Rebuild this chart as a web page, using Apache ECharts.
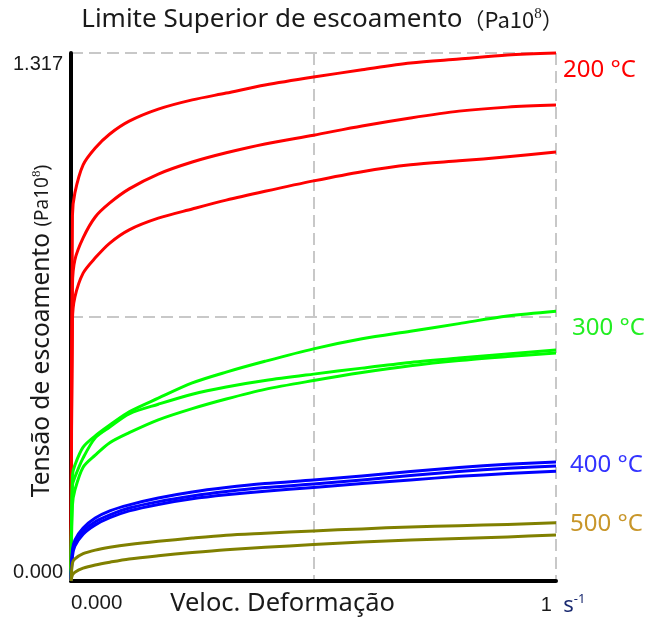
<!DOCTYPE html>
<html>
<head>
<meta charset="utf-8">
<script src="https://cdn.jsdelivr.net/npm/echarts@6/dist/echarts.min.js"></script>
<style>html,body{margin:0;padding:0;background:#fff;}#c{width:645px;height:620px;}</style>
</head>
<body>
<div id="c"></div>
<script>
// Strain rate (s^-1), shared by all curves
const xVals = [0, 0.003, 0.008, 0.025, 0.05, 0.08, 0.12, 0.18, 0.25, 0.32, 0.4, 0.5, 0.6, 0.7, 0.8, 0.9, 1.0];
// Yield stress (Pa·10^8)
const red1   = [0, 0.913, 0.968, 1.038, 1.080, 1.115, 1.147, 1.177, 1.200, 1.217, 1.237, 1.257, 1.275, 1.292, 1.302, 1.312, 1.317];
const red2   = [0, 0.738, 0.801, 0.856, 0.908, 0.943, 0.978, 1.015, 1.045, 1.068, 1.090, 1.112, 1.135, 1.155, 1.172, 1.182, 1.187];
const red3   = [0, 0.651, 0.708, 0.768, 0.806, 0.843, 0.876, 0.905, 0.928, 0.950, 0.972, 0.998, 1.021, 1.038, 1.048, 1.058, 1.070];
const green1 = [0, 0.264, 0.289, 0.334, 0.362, 0.389, 0.422, 0.456, 0.494, 0.521, 0.548, 0.579, 0.604, 0.623, 0.642, 0.661, 0.673];
const green2 = [0, 0.239, 0.259, 0.307, 0.357, 0.384, 0.417, 0.441, 0.466, 0.484, 0.500, 0.516, 0.531, 0.545, 0.556, 0.566, 0.576];
const green3 = [0, 0.190, 0.227, 0.284, 0.314, 0.345, 0.370, 0.402, 0.430, 0.454, 0.478, 0.500, 0.520, 0.537, 0.550, 0.560, 0.569];
const blue1  = [0, 0.077, 0.102, 0.132, 0.157, 0.175, 0.190, 0.207, 0.222, 0.233, 0.243, 0.252, 0.262, 0.273, 0.283, 0.291, 0.297];
const blue2  = [0, 0.070, 0.095, 0.125, 0.148, 0.165, 0.182, 0.198, 0.212, 0.223, 0.233, 0.242, 0.252, 0.263, 0.273, 0.281, 0.287];
const blue3  = [0, 0.062, 0.087, 0.117, 0.140, 0.158, 0.175, 0.191, 0.205, 0.215, 0.224, 0.233, 0.243, 0.252, 0.261, 0.268, 0.274];
const olive1 = [0, 0.045, 0.055, 0.068, 0.077, 0.084, 0.091, 0.099, 0.107, 0.114, 0.119, 0.125, 0.130, 0.135, 0.138, 0.141, 0.145];
const olive2 = [0, 0.015, 0.022, 0.032, 0.040, 0.047, 0.055, 0.063, 0.071, 0.078, 0.084, 0.091, 0.097, 0.102, 0.106, 0.110, 0.115];
const tempLabels = ['200 °C', '300 °C', '400 °C', '500 °C'];
const yMax = 1.317;
const xTickLabels = ['0.000', '1'];
const yTickLabels = ['0.000', '1.317'];

const FONT = 'Noto Sans';
const NUMFONT = 'Liberation Sans';

function pairs(ys) { return xVals.map((x, i) => [x, ys[i]]); }

function mk(name, ys, color, endLbl) {
  const s = {
    name: name, type: 'line', data: pairs(ys), showSymbol: false, symbol: 'none',
    smooth: 0.3, clip: false,
    lineStyle: { color: color, width: 3, join: 'round' }, silent: true, animation: false
  };
  if (endLbl) {
    s.endLabel = {
      show: true, formatter: endLbl.text, color: endLbl.color, fontFamily: FONT,
      fontSize: 24, distance: 0, offset: endLbl.offset
    };
  }
  return s;
}

const chart = echarts.init(document.getElementById('c'), null, { renderer: 'canvas' });
chart.setOption({
  backgroundColor: '#ffffff',
  animation: false,
  title: {
    text: '{a|Limite Superior de escoamento}{b|（Pa10}{sup|8}{b|）}',
    left: 'center', top: 2,
    textStyle: {
      fontWeight: 'normal',
      rich: {
        a: { fontFamily: FONT, fontSize: 26, fontWeight: 'normal', color: '#1a1a1a' },
        b: { fontFamily: 'Noto Sans CJK SC', fontSize: 22, fontWeight: 'normal', color: '#1a1a1a' },
        sup: { fontFamily: 'Liberation Serif', fontSize: 15, fontWeight: 'normal', color: '#1a1a1a', verticalAlign: 'top', padding: [0, 0, 10, 0] }
      }
    }
  },
  grid: { left: 71, right: 89, top: 53, bottom: 39, outerBoundsMode: 'none', containLabel: false },
  xAxis: {
    type: 'value', min: 0, max: 1, interval: 0.5,
    name: 'Veloc. Deformação', nameLocation: 'middle', nameGap: 10, nameMoveOverlap: false,
    nameTextStyle: { fontFamily: FONT, fontSize: 25.5, color: '#1a1a1a', padding: [0, 62, 0, 0] },
    axisLine: { show: true, lineStyle: { color: '#000', width: 4 } },
    axisTick: { show: false },
    splitLine: { show: true, lineStyle: { color: '#c8c8c8', width: 2, type: [12, 6] } },
    axisLabel: {
      margin: 12, alignMinLabel: 'left', alignMaxLabel: 'center',
      formatter: function (v) {
        if (Math.abs(v) < 1e-9) return '{n|' + xTickLabels[0] + '}';
        if (Math.abs(v - 1) < 1e-9) return '{m|' + xTickLabels[1] + '}{u|  s}{sup|-1}';
        return '';
      },
      rich: {
        n: { fontFamily: NUMFONT, fontSize: 20.5, color: '#1a1a1a' },
        m: { fontFamily: NUMFONT, fontSize: 20, color: '#1a1a1a', padding: [0, 0, 0, 14] },
        u: { fontFamily: FONT, fontSize: 22, color: '#1a2a70' },
        sup: { fontFamily: FONT, fontSize: 13, color: '#1a2a70', verticalAlign: 'top', padding: [0, 0, 12, 0] }
      }
    }
  },
  yAxis: {
    type: 'value', min: 0, max: yMax, interval: yMax / 2,
    name: 'Tensão de escoamento {b|(Pa10}{sup|8}{b|)}', nameLocation: 'middle', nameGap: 16, nameRotate: 90,
    nameMoveOverlap: false,
    nameTextStyle: {
      fontFamily: FONT, fontSize: 24.5, color: '#1a1a1a', padding: [0, 28, 0, 0],
      rich: {
        b: { fontFamily: FONT, fontSize: 19, color: '#1a1a1a' },
        sup: { fontFamily: 'Liberation Serif', fontSize: 13, color: '#1a1a1a', verticalAlign: 'top', padding: [0, 0, 10, 0] }
      }
    },
    axisLine: { show: true, lineStyle: { color: '#000', width: 4 } },
    axisTick: { show: false },
    splitLine: { show: true, lineStyle: { color: '#c8c8c8', width: 2, type: [12, 6] } },
    axisLabel: {
      margin: 8,
      formatter: function (v) {
        if (Math.abs(v) < 1e-9) return '{lo|' + yTickLabels[0] + '}';
        if (Math.abs(v - yMax) < 1e-6) return '{hi|' + yTickLabels[1] + '}';
        return '';
      },
      rich: {
        lo: { fontFamily: NUMFONT, fontSize: 20, color: '#1a1a1a', padding: [0, 0, 18, 0] },
        hi: { fontFamily: NUMFONT, fontSize: 20, color: '#1a1a1a', padding: [22, 0, 0, 0] }
      }
    }
  },
  series: [
    mk('200a', red1, '#ff0000', { text: tempLabels[0], color: '#ff0000', offset: [7, 17] }),
    mk('200b', red2, '#ff0000'),
    mk('200c', red3, '#ff0000'),
    mk('300a', green1, '#00ff00', { text: tempLabels[1], color: '#22ee22', offset: [16, 17] }),
    mk('300b', green2, '#00ff00'),
    mk('300c', green3, '#00ff00'),
    mk('400a', blue1, '#0000ff', { text: tempLabels[2], color: '#3333ff', offset: [14, 3] }),
    mk('400b', blue2, '#0000ff'),
    mk('400c', blue3, '#0000ff'),
    mk('500a', olive1, '#808000', { text: tempLabels[3], color: '#c8962a', offset: [14, 1] }),
    mk('500b', olive2, '#808000')
  ]
});
</script>
</body>
</html>
